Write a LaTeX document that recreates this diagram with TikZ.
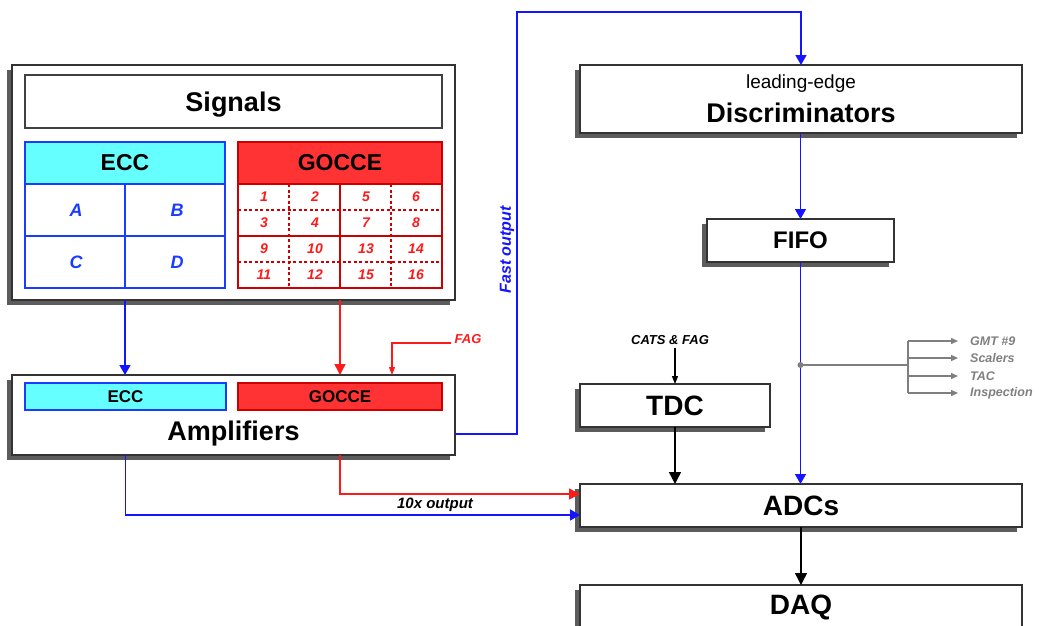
\documentclass[tikz,border=0pt]{standalone}
\usepackage{fontspec}
\setmainfont{Liberation Sans}
\usetikzlibrary{positioning, arrows.meta, shadows, calc}

\definecolor{eccfill}{HTML}{66FFFF}
\definecolor{eccline}{HTML}{1A3CFF}
\definecolor{goccefill}{HTML}{FF3333}
\definecolor{gocceline}{HTML}{CC0000}
\definecolor{sigblue}{HTML}{1414FF}
\definecolor{sigred}{HTML}{FF1A1A}
\definecolor{tapgray}{HTML}{7F7F7F}
\definecolor{shadowgray}{HTML}{5C5C5C}

\begin{document}
\begin{tikzpicture}[
    x=1pt, y=-1pt,
    sysbox/.style={draw=black!80, line width=1.3pt, fill=white, inner sep=0pt, outer sep=0pt,
        drop shadow={shadow xshift=-5pt, shadow yshift=-5pt, fill=shadowgray, opacity=1},
        font=\bfseries\fontsize{28}{30}\selectfont},
    titlebox/.style={draw=black!75, line width=2pt, fill=white, inner sep=0pt, outer sep=0pt,
        font=\bfseries\fontsize{27}{30}\selectfont},
    ecchead/.style={draw=eccline, line width=2pt, fill=eccfill, inner sep=0pt, outer sep=0pt},
    goccehead/.style={draw=gocceline, line width=2pt, fill=goccefill, inner sep=0pt, outer sep=0pt},
    eccgrid/.style={draw=eccline, line width=2pt, fill=white, inner sep=0pt, outer sep=0pt},
    goccegrid/.style={draw=gocceline, line width=2pt, fill=white, inner sep=0pt, outer sep=0pt},
    ecclbl/.style={text=eccline, font=\bfseries\itshape\fontsize{18}{20}\selectfont},
    gocclbl/.style={text=sigred, font=\bfseries\itshape\fontsize{14}{16}\selectfont},
    notelbl/.style={font=\bfseries\itshape\fontsize{13}{15}\selectfont},
    taplbl/.style={text=tapgray, anchor=west, inner sep=2pt, font=\bfseries\itshape\fontsize{12.5}{14}\selectfont},
    blueline/.style={draw=sigblue, line width=1.4pt, -{Triangle[width=11pt,length=10pt]}},
    redline/.style={draw=sigred, line width=1.4pt, -{Triangle[width=11pt,length=11pt]}},
    blackline/.style={draw=black, line width=1.4pt, -{Triangle[width=12pt,length=12pt]}},
    thinline/.style={line width=1.1pt, -{Triangle[width=6pt,length=8pt]}},
    tapline/.style={draw=tapgray, line width=1.4pt},
    taparrow/.style={tapline, -{Triangle[width=6pt,length=7pt]}}
]
    \useasboundingbox (0,0) rectangle (1039,625);

    % signals panel
    \node[sysbox, minimum width=443pt, minimum height=235pt] (sig) at (233.5,182.5) {};
    \node[titlebox, minimum width=417pt, minimum height=53pt, text height=25pt] (sigtitle) at (233.5,101.5) {Signals};
    \node[ecchead, minimum width=200pt, minimum height=42pt, font=\bfseries\fontsize{23}{25}\selectfont] (ecc) at (125,163) {ECC};
    \node[eccgrid, minimum width=200pt, minimum height=104pt] (eccg) at (125,236) {};
    \node[goccehead, minimum width=204pt, minimum height=42pt, font=\bfseries\fontsize{23}{25}\selectfont] (gocce) at (340,163) {GOCCE};
    \node[goccegrid, minimum width=204pt, minimum height=104pt] (gocceg) at (340,236) {};

    \draw[eccline, line width=2pt] (eccg.north) -- (eccg.south) (eccg.west) -- (eccg.east);
    \draw[gocceline, line width=2pt] (gocceg.north) -- (gocceg.south) (gocceg.west) -- (gocceg.east);
    \foreach \dx in {-51,51}
        \draw[gocceline, line width=1.8pt, dash pattern=on 3pt off 2.5pt]
            ([xshift=\dx pt]gocceg.north) -- ([xshift=\dx pt]gocceg.south);
    \foreach \dy in {-26,26}
        \draw[gocceline, line width=1.8pt, dash pattern=on 3pt off 2.5pt]
            ([yshift=\dy pt]gocceg.west) -- ([yshift=\dy pt]gocceg.east);

    \foreach \lbl/\cx/\cy in {A/76/210, B/177/210, C/76/262, D/177/262}
        \node[ecclbl] (cell\lbl) at (\cx,\cy) {\lbl};
    \foreach \num/\cx/\cy in {1/264/197, 2/315/197, 5/366/197, 6/416/197,
                              3/264/223, 4/315/223, 7/366/223, 8/416/223,
                              9/264/249, 10/315/249, 13/366/249, 14/416/249,
                              11/264/275, 12/315/275, 15/366/275, 16/416/275}
        \node[gocclbl] (ch\num) at (\cx,\cy) {\num};

    % amplifiers
    \node[sysbox, minimum width=443pt, minimum height=80pt] (amp) at (233.5,415) {};
    \node[ecchead, minimum width=201pt, minimum height=27pt, font=\bfseries\fontsize{17}{19}\selectfont] (ampecc) at (125.5,396.5) {ECC};
    \node[goccehead, minimum width=204pt, minimum height=27pt, font=\bfseries\fontsize{17}{19}\selectfont] (ampgocce) at (340,396.5) {GOCCE};
    \node[font=\bfseries\fontsize{27}{30}\selectfont] (amptext) at (233.5,434) {Amplifiers};

    % right column
    \node[sysbox, minimum width=442pt, minimum height=68pt, align=center] (disc) at (801,99)
        {{\mdseries\fontsize{19}{21}\selectfont leading-edge}\\[4pt]{\fontsize{27}{30}\selectfont Discriminators}};
    \node[sysbox, minimum width=187pt, minimum height=43pt, font=\bfseries\fontsize{24}{26}\selectfont] (fifo) at (800.5,240.5) {FIFO};
    \node[sysbox, minimum width=190pt, minimum height=43pt] (tdc) at (675,405.5) {TDC};
    \node[sysbox, minimum width=442pt, minimum height=43pt] (adc) at (801,505.5) {ADCs};
    \node[sysbox, minimum width=442pt, minimum height=45pt] (daq) at (801,607.5) {DAQ};

    % labels
    \node[notelbl, text=sigred] (fag) at (468,339) {FAG};
    \node[notelbl] (cats) at (670,340) {CATS \& FAG};
    \node[notelbl, font=\bfseries\itshape\fontsize{15}{17}\selectfont] (tenx) at (435,505) {10x output};
    \node[notelbl, text=sigblue, rotate=90, font=\bfseries\itshape\fontsize{16}{18}\selectfont] (fast) at (507,250) {Fast output};
    \node[taplbl] (gmt) at (968,341) {GMT \#9};
    \node[taplbl] (scal) at (968,358) {Scalers};
    \node[taplbl] (tac) at (968,376) {TAC};
    \node[taplbl] (insp) at (968,393) {Inspection};

    % connectors
    \draw[blueline] (eccg.south |- sig.south) -- (eccg.south |- amp.north);
    \draw[redline] (gocceg.south |- sig.south) -- (gocceg.south |- amp.north);
    \draw[draw=sigred, thinline] ([yshift=-4pt]fag.west) -| ([xshift=158.5pt]amp.north);
    \draw[blueline] (amp.east |- amptext) -- ++(62,0) |- ([yshift=53pt]disc.north) -- (disc.north);
    \draw[blueline] (disc.south -| fifo.north) -- (fifo.north);
    \draw[blueline] (fifo.south) -- (fifo.south |- adc.north);
    \draw[thinline] (cats.south -| tdc.north) -- (tdc.north);
    \draw[blackline] (tdc.south) -- (tdc.south |- adc.north);
    \draw[redline] (ampgocce.south |- amp.south) |- ([yshift=11.5pt]adc.west);
    \draw[blueline] (ampecc.south |- amp.south) |- ([yshift=-9.5pt]adc.west);
    \draw[blackline] (adc.south) -- (daq.north);

    % monitoring taps
    \coordinate (tap) at (fifo.south |- 0,365);
    \coordinate (fan) at (908,365);
    \draw[tapline] (tap) -- (fan);
    \draw[tapline] (fan |- gmt.west) -- (fan |- insp.west);
    \foreach \out in {gmt, scal, tac, insp}
        \draw[taparrow] (fan |- \out.west) -- ([xshift=-10pt]\out.west);
    \fill[tapgray] (tap) circle (3pt);
\end{tikzpicture}
\end{document}
